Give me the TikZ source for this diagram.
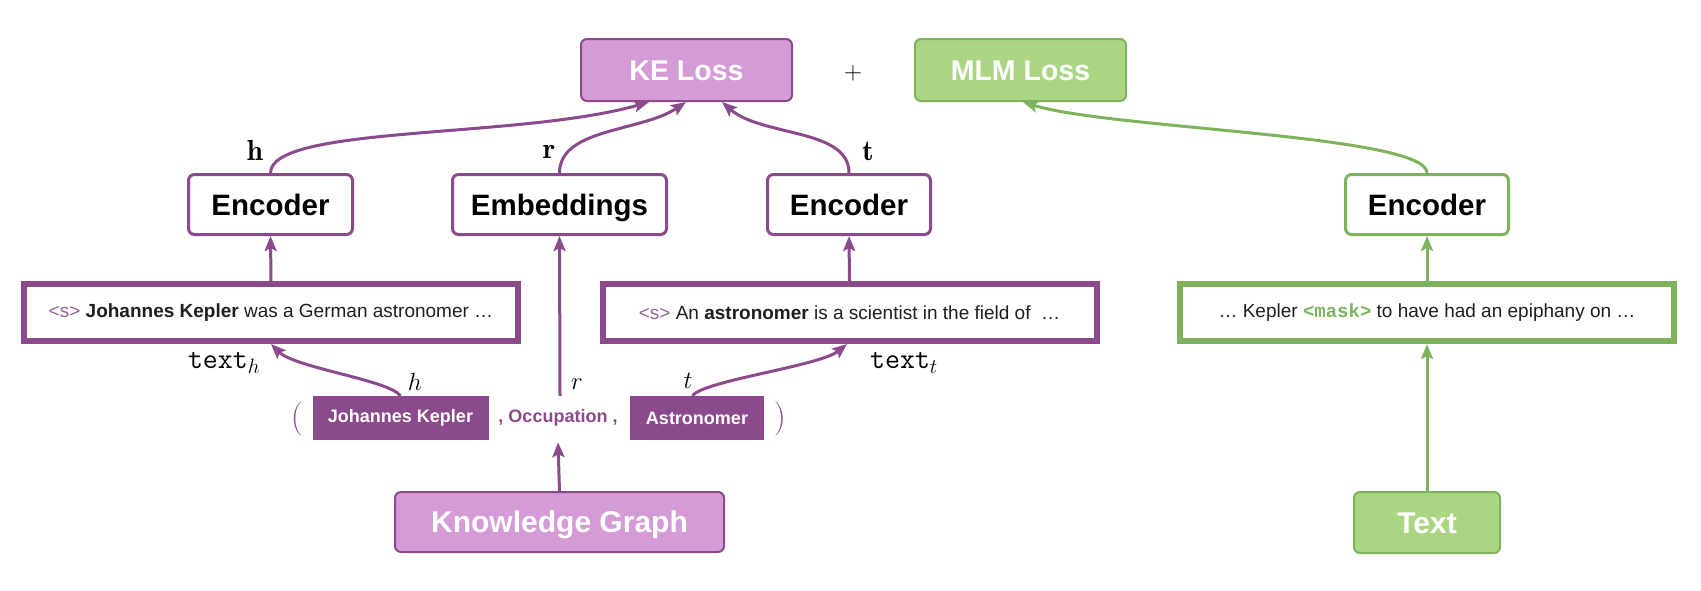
\documentclass[tikz,border=0pt]{standalone}
\usepackage{fontspec}
\newfontfamily\arial{Liberation Sans}
\newfontfamily\cour{Liberation Mono}
\usetikzlibrary{arrows.meta}
\definecolor{kdark}{RGB}{139,74,140}
\definecolor{klight}{RGB}{212,155,214}
\definecolor{kpale}{RGB}{150,95,150}
\definecolor{gdark}{RGB}{125,179,92}
\definecolor{glight}{RGB}{170,214,132}
\definecolor{txtgray}{RGB}{30,30,30}
\tikzset{
  lossbox/.style={draw=kdark, line width=2pt, rounded corners=6pt, minimum width=211pt, minimum height=62pt, inner sep=0pt, text height=20.5pt, text depth=0pt, text=white, font=\arial\bfseries\fontsize{28.5}{30}\selectfont},
  encbox/.style={draw=kdark, line width=3pt, rounded corners=6pt, fill=white, minimum height=60pt, inner sep=0pt, text height=21pt, text depth=0pt, font=\arial\bfseries\fontsize{29.5}{32}\selectfont},
  sentbox/.style={draw=kdark, line width=6pt, minimum width=494pt, minimum height=57pt, inner sep=0pt, text=txtgray, font=\arial\fontsize{19}{21}\selectfont},
  entbox/.style={fill=kdark, text=white, minimum height=44pt, inner sep=0pt, font=\arial\bfseries\fontsize{18}{20}\selectfont},
  lbl/.style={inner sep=0pt, font=\fontsize{29}{31}\selectfont},
  arr/.style={draw=kdark, line width=3pt, -{Stealth[length=15pt,width=12pt,inset=3pt]}},
  garr/.style={draw=gdark, line width=3pt, -{Stealth[length=15pt,width=12pt,inset=3pt]}},
}
\newcommand{\stok}{{\color{kpale}<s>}}
\begin{document}
\begin{tikzpicture}[x=1pt,y=1pt]
\useasboundingbox (0,0) rectangle (1701,-590);

% losses
\node[lossbox, fill=klight] (keloss) at (686.5,-70) {KE Loss};
\node[lbl] (plus) at (853,-73) {$+$};
\node[lossbox, fill=glight, draw=gdark] (mlmloss) at (1020.5,-70) {MLM Loss};

% encoders
\node[encbox, minimum width=164pt] (enc1) at (270.5,-204.5) {Encoder};
\node[encbox, minimum width=214pt] (emb) at (559.5,-204.5) {Embeddings};
\node[encbox, minimum width=163pt] (enc2) at (849,-204.5) {Encoder};
\node[encbox, minimum width=163pt, draw=gdark] (enc3) at (1427,-204.5) {Encoder};

% sentence boxes
\node[sentbox] (sent1) at (271,-312.5) {\stok{} \textbf{Johannes Kepler} was a German astronomer …};
\node[sentbox] (sent2) at (849.5,-312.5) {\stok{} An \textbf{astronomer} is a scientist in the field of~ …};
\node[sentbox, draw=gdark] (sent3) at (1427,-312.5) {… Kepler {\cour\bfseries\color{gdark}<mask>} to have had an epiphany on …};

% triple
\node[lbl, text=kdark, font=\fontsize{34}{36}\selectfont] (lpar) at (297,-419) {(};
\node[entbox, minimum width=176pt] (jk) at (400.5,-418) {Johannes Kepler};
\node[inner sep=0pt, minimum height=44pt, text=kdark, font=\arial\bfseries\fontsize{18}{20}\selectfont] (occ) at (558,-418) {, Occupation ,};
\node[entbox, minimum width=134pt] (ast) at (697,-418) {Astronomer};
\node[lbl, text=kdark, font=\fontsize{34}{36}\selectfont] (rpar) at (780,-419) {)};

% sources
\node[lossbox, fill=klight, minimum width=329pt, minimum height=60pt, text height=21.5pt, font=\arial\bfseries\fontsize{30}{32}\selectfont] (kg) at (559.5,-522) {Knowledge Graph};
\node[lossbox, fill=glight, draw=gdark, minimum width=146pt, minimum height=61pt, text height=21.5pt, font=\arial\bfseries\fontsize{30}{32}\selectfont] (txt) at (1427,-522.5) {Text};

% labels
\node[lbl] (hb) at (255,-150) {$\mathbf{h}$};
\node[lbl] (rb) at (549,-152) {$\mathbf{r}$};
\node[lbl] (tb) at (868,-151) {$\mathbf{t}$};
\node[lbl] (texth) at (224,-363) {\texttt{text}$_h$};
\node[lbl] (textt) at (904,-363) {\texttt{text}$_t$};
\node[lbl] (hi) at (415,-382) {$h$};
\node[lbl] (ri) at (577,-384) {$r$};
\node[lbl] (ti) at (688,-381) {$t$};

% arrows to KE loss
\draw[arr] (enc1.north) .. controls +(0,48) and +(-129,-37) .. ([xshift=-37.5pt]keloss.south);
\draw[arr] (emb.north) .. controls +(0,45) and +(-45,-30) .. ([xshift=-0.5pt]keloss.south);
\draw[arr] (enc2.north) .. controls +(0,45) and +(40,-35) .. ([xshift=35.5pt]keloss.south);
\draw[garr] (enc3.north) .. controls +(0,38) and +(87,-27) .. ([xshift=2.5pt]mlmloss.south);

% straight arrows
\draw[arr] (sent1.north) -- (enc1.south);
\draw[arr] (sent2.north) -- (enc2.south);
\draw[garr] (sent3.north) -- (enc3.south);
\draw[garr] (txt.north) -- (sent3.south);
\draw[arr] (kg.north) -- ([yshift=-2pt]occ.south);
\draw[arr] ([xshift=2pt]occ.north) -- (emb.south);

% entity to text arrows
\draw[arr] (jk.north) .. controls +(-12,16) and +(24,-24) .. (sent1.south);
\draw[arr] ([xshift=-4.5pt]ast.north) .. controls +(10,15) and +(-27,-22) .. ([xshift=-2.5pt]sent2.south);
\end{tikzpicture}
\end{document}
